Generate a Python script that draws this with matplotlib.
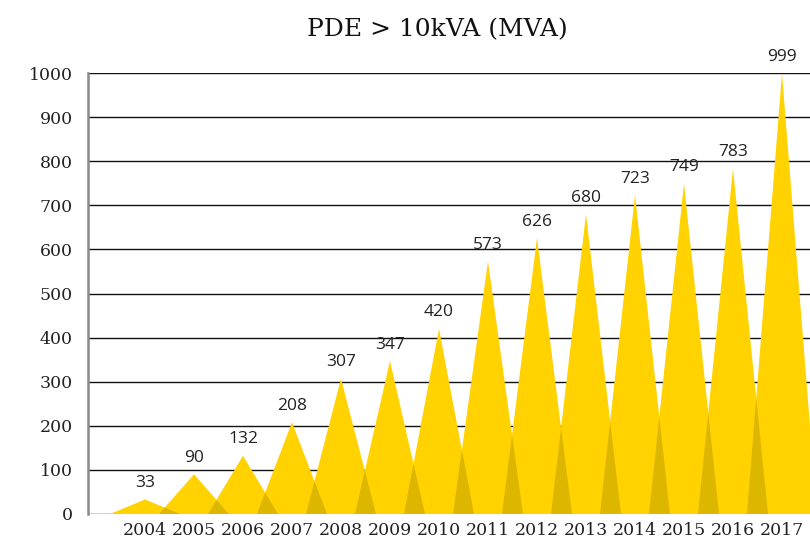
import matplotlib
matplotlib.use("Agg")
import matplotlib.pyplot as plt
from matplotlib.patches import Polygon

# data
years = [2004, 2005, 2006, 2007, 2008, 2009, 2010, 2011, 2012, 2013, 2014, 2015, 2016, 2017]
mva = [33, 90, 132, 208, 307, 347, 420, 573, 626, 680, 723, 749, 783, 999]
yticks = [0, 100, 200, 300, 400, 500, 600, 700, 800, 900, 1000]

yellow = "#FFD200"
dark = "#DDB600"
half = 0.714  # half base width of a peak, in years

fig = plt.figure(figsize=(8.1, 5.41), dpi=100)
ax = fig.add_axes([88 / 810, 27 / 541, 1 - 88 / 810, 441 / 541])

# peaks
for yr, v in zip(years, mva):
    tri = Polygon([(yr - half, 0), (yr, v), (yr + half, 0)], closed=True,
                  facecolor=yellow, edgecolor="none", zorder=2)
    ax.add_patch(tri)
    ax.annotate(str(v), (yr, v), xytext=(0, 6), textcoords="offset points",
                ha="center", va="bottom", fontsize=12.5, family="Open Sans",
                color="#222222", zorder=4)

# darker zones where neighbouring peaks overlap
for i in range(len(years) - 1):
    a, b = years[i], years[i + 1]
    h1, h2 = mva[i], mva[i + 1]
    x = (h1 * (a + half) + h2 * (b - half)) / (h1 + h2)
    y = h1 * (a + half - x) / half
    ax.add_patch(Polygon([(b - half, 0), (x, y), (a + half, 0)], closed=True,
                         facecolor=dark, edgecolor="none", zorder=3))

ax.set_xlim(2004 - 57 / 49, 2004 + (810 - 145) / 49)
ax.set_ylim(0, 1000)
ax.set_xticks(years)
ax.set_xticklabels([str(y) for y in years], family="DejaVu Serif", fontsize=12.5)
ax.set_yticks(yticks)
ax.set_yticklabels([str(t) for t in yticks], family="DejaVu Serif", fontsize=12.5)
ax.tick_params(axis="both", length=0, colors="#222222")
ax.tick_params(axis="y", pad=11)
ax.tick_params(axis="x", pad=6)

for t in yticks:
    ax.axhline(t, color="#111111", lw=1.0, zorder=1)

for s in ["top", "right", "bottom"]:
    ax.spines[s].set_visible(False)
ax.spines["left"].set_color("#8a8a8a")
ax.spines["left"].set_linewidth(1.8)

fig.text(437 / 810, 1 - 30 / 541, "PDE > 10kVA (MVA)", ha="center", va="center",
         family="DejaVu Serif", fontsize=18, color="#111111")

fig.savefig("out.png", dpi=100)
